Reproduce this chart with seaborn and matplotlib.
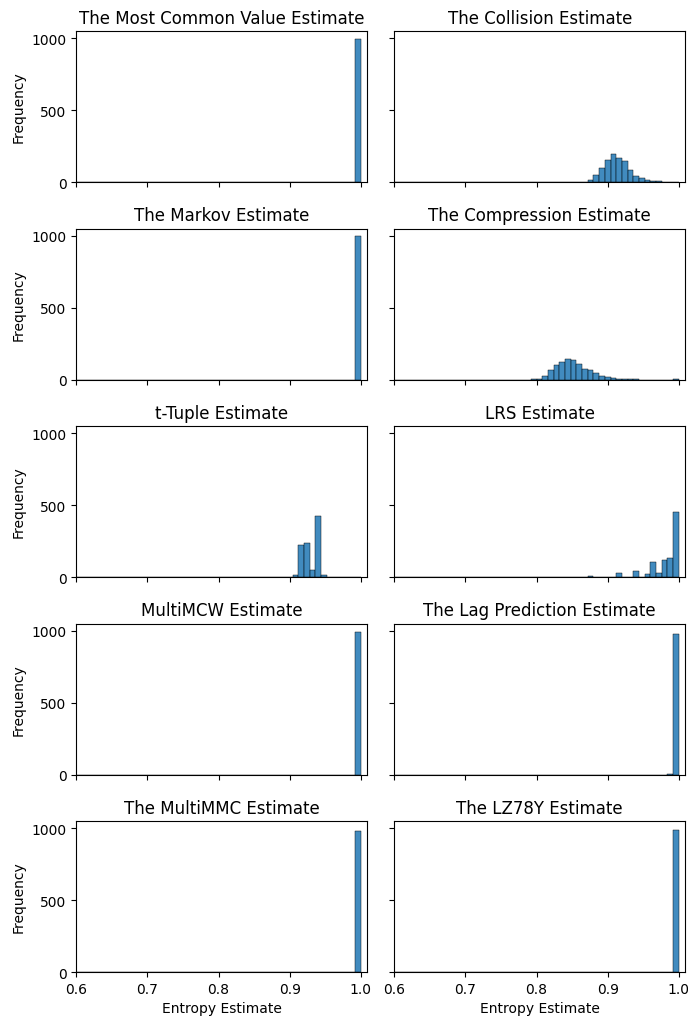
import matplotlib
matplotlib.use('Agg')
import matplotlib.pyplot as plt
import seaborn as sns
import numpy as np
import pandas as pd

# Bin grid used by every panel: bins of width 0.008 between 0.6 and 1.0
bin_range = (0.6, 1.0)
bin_width = 0.008

titles = [
    "The Most Common Value Estimate", "The Collision Estimate",
    "The Markov Estimate", "The Compression Estimate",
    "t-Tuple Estimate", "LRS Estimate",
    "MultiMCW Estimate", "The Lag Prediction Estimate",
    "The MultiMMC Estimate", "The LZ78Y Estimate",
]

# left edge of each non-empty bin, and its count
mcv_bins = [0.992]
mcv_counts = [995]

collision_bins = [0.872, 0.880, 0.888, 0.896, 0.904, 0.912, 0.920, 0.928,
                  0.936, 0.944, 0.952, 0.960, 0.968, 0.976, 0.992]
collision_counts = [16, 51, 98, 152, 196, 168, 145, 82, 40, 26, 12, 7, 4, 2, 1]

markov_bins = [0.992]
markov_counts = [1000]

compression_bins = [0.792, 0.800, 0.808, 0.816, 0.824, 0.832, 0.840, 0.848,
                    0.856, 0.864, 0.872, 0.880, 0.888, 0.896, 0.904, 0.912,
                    0.920, 0.928, 0.936, 0.992]
compression_counts = [2, 4, 28, 65, 98, 121, 142, 137, 105, 70, 65, 47, 28,
                      16, 9, 7, 4, 2, 1, 2]

ttuple_bins = [0.904, 0.912, 0.920, 0.928, 0.936, 0.944]
ttuple_counts = [17, 223, 240, 52, 427, 12]

lrs_bins = [0.872, 0.888, 0.896, 0.912, 0.928, 0.936, 0.952, 0.960, 0.968,
            0.976, 0.984, 0.992]
lrs_counts = [5, 3, 3, 28, 3, 40, 19, 108, 26, 117, 134, 455]

multimcw_bins = [0.992]
multimcw_counts = [990]

lag_bins = [0.984, 0.992]
lag_counts = [5, 980]

multimmc_bins = [0.944, 0.976, 0.992]
multimmc_counts = [3, 3, 980]

lz78y_bins = [0.992]
lz78y_counts = [990]

panels = [
    (mcv_bins, mcv_counts), (collision_bins, collision_counts),
    (markov_bins, markov_counts), (compression_bins, compression_counts),
    (ttuple_bins, ttuple_counts), (lrs_bins, lrs_counts),
    (multimcw_bins, multimcw_counts), (lag_bins, lag_counts),
    (multimmc_bins, multimmc_counts), (lz78y_bins, lz78y_counts),
]

fig, axes = plt.subplots(5, 2, figsize=(6.88, 10.2), dpi=100,
                         sharex=True, sharey=True)

for ax, title, (bins, counts) in zip(axes.flat, titles, panels):
    df = pd.DataFrame({"x": np.array(bins) + bin_width / 2, "n": counts})
    sns.histplot(data=df, x="x", weights="n", binwidth=bin_width,
                 binrange=bin_range, alpha=0.85, ax=ax)
    ax.set_title(title, fontsize=12)
    ax.set_ylabel("")
    ax.set_xlabel("")

for ax in axes[:, 0]:
    ax.set_ylabel("Frequency")
for ax in axes[-1, :]:
    ax.set_xlabel("Entropy Estimate")
    ax.tick_params(labelbottom=True)

axes[0, 0].set_xlim(0.6, 1.009)
axes[0, 0].set_xticks([0.6, 0.7, 0.8, 0.9, 1.0])
axes[0, 0].set_ylim(0, 1050)
axes[0, 0].set_yticks([0, 500, 1000])

plt.subplots_adjust(left=0.111, right=0.996, top=0.9686, bottom=0.046,
                    wspace=0.093, hspace=0.308)
plt.savefig("out.png")
plt.close()
